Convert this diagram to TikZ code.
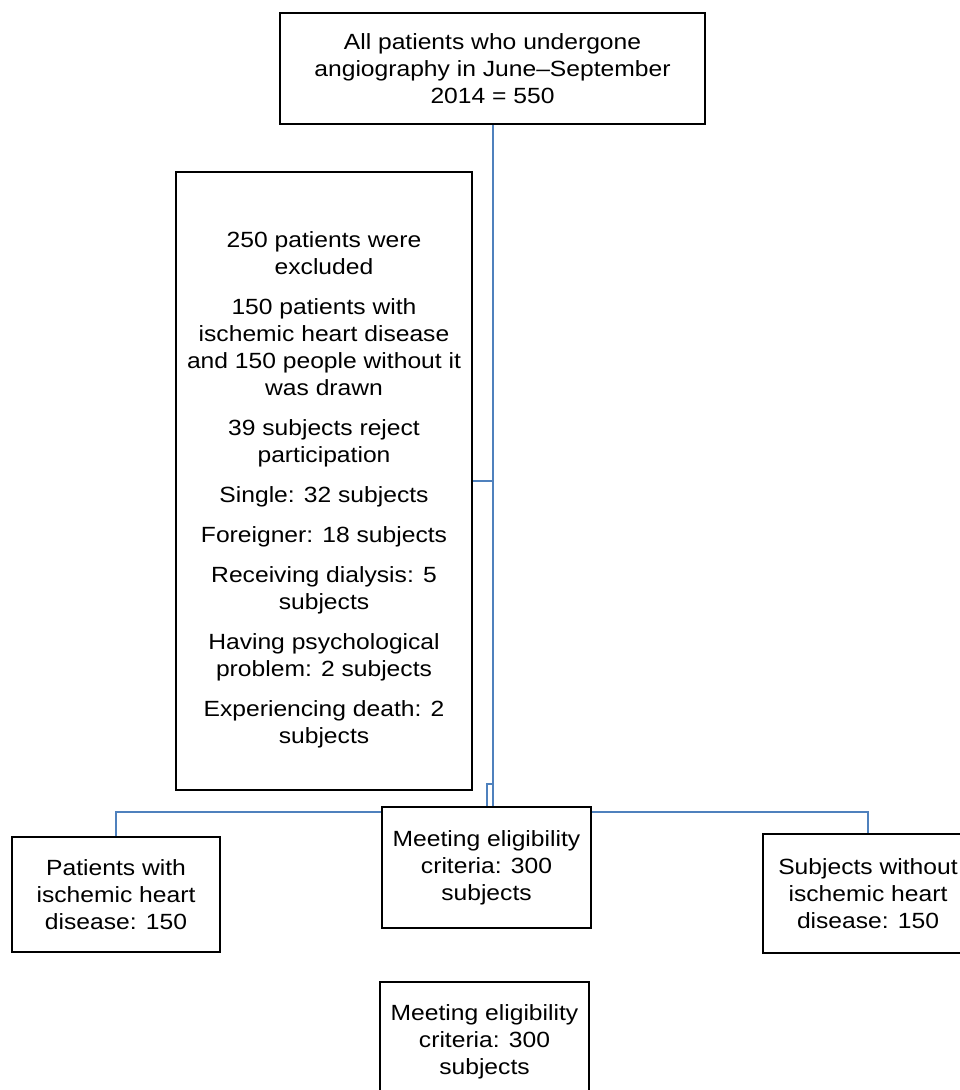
\documentclass[tikz,border=0pt]{standalone}
\usepackage{fontspec}
\setmainfont{Liberation Sans}[FakeStretch=1.12]
\usepackage{tikz}
\usetikzlibrary{backgrounds}
\definecolor{linkblue}{RGB}{79,129,189}
\tikzset{
  box/.style={draw=black,line width=2pt,fill=white,inner sep=0pt,align=center,
    font=\fontsize{22}{27}\selectfont},
  link/.style={draw=linkblue,line width=2pt}
}

\begin{document}
\begin{tikzpicture}[x=1pt,y=-1pt]
    \useasboundingbox (0,0) rectangle (960,1090);
    \node[box,minimum width=425pt,minimum height=111pt] (all) at (492.5,68.5)
      {All patients who undergone\\angiography in June--September\\2014 = 550};
    \node[box,minimum width=296pt,minimum height=618pt] (excl) at (324,481)
      {\parbox[c][604pt][t]{290pt}{\centering\setlength{\parskip}{13pt}%
        \vspace*{40pt}
        250 patients were\\excluded\par
        150 patients with\\ischemic heart disease\\and 150 people without it\\was drawn\par
        39 subjects reject\\participation\par
        Single: 32 subjects\par
        Foreigner: 18 subjects\par
        Receiving dialysis: 5\\subjects\par
        Having psychological\\problem: 2 subjects\par
        Experiencing death: 2\\subjects\par}};
    \node[box,minimum width=209pt,minimum height=121pt] (meet1) at (486.5,867.5)
      {Meeting eligibility\\criteria: 300\\subjects};
    \node[box,minimum width=208pt,minimum height=115pt] (ihd) at (116,894.5)
      {Patients with\\ischemic heart\\disease: 150};
    \node[box,minimum width=210pt,minimum height=119pt] (noihd) at (868,893.5)
      {Subjects without\\ischemic heart\\disease: 150};
    \node[box,minimum width=209pt,minimum height=120pt] (meet2) at (484.5,1042)
      {Meeting eligibility\\criteria: 300\\subjects};
    \coordinate (jog) at (492.5,784);
    \coordinate (bus) at (116,812);
    % connectors behind the boxes
    \begin{pgfonlayer}{background}
      \draw[link] (all.south) to (all.south |- meet1.north);
      \draw[link] (jog) -| (meet1.north);
      \draw[link] (excl.east) to (excl.east -| all.south);
      \draw[link] (ihd.north) to (bus) -| (noihd.north);
    \end{pgfonlayer}
  \end{tikzpicture}
\end{document}
